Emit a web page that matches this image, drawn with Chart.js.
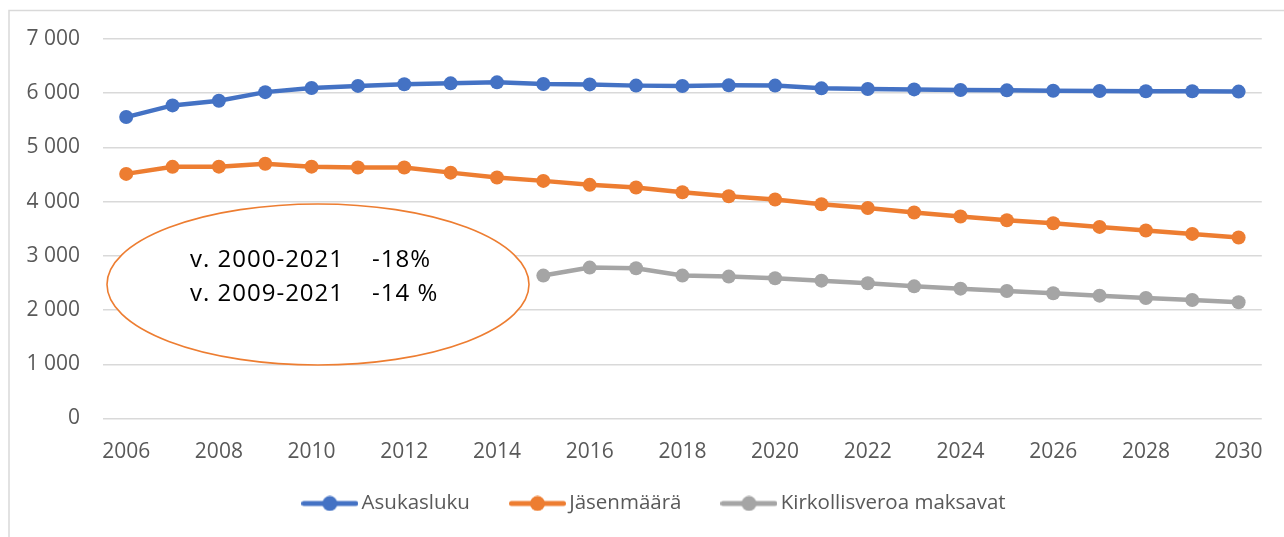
<!DOCTYPE html>
<html>
<head>
<meta charset="utf-8">
<script src="https://cdn.jsdelivr.net/npm/chart.js@4/dist/chart.umd.min.js"></script>
<style>
html,body{margin:0;padding:0;background:#fff;}
#wrap{position:relative;width:1284px;height:537px;}
</style>
</head>
<body>
<div id="wrap"><canvas id="c" width="1284" height="537"></canvas></div>
<script>
const years = ['2006','2007','2008','2009','2010','2011','2012','2013','2014','2015','2016','2017','2018','2019','2020','2021','2022','2023','2024','2025','2026','2027','2028','2029','2030'];
const asukasluku = [5560, 5775, 5860, 6020, 6095, 6135, 6165, 6182, 6200, 6170, 6163, 6140, 6132, 6145, 6140, 6090, 6077, 6070, 6058, 6053, 6045, 6040, 6035, 6035, 6030];
const jasenmaara = [4512, 4642, 4645, 4700, 4645, 4630, 4630, 4535, 4446, 4383, 4310, 4260, 4174, 4100, 4040, 3953, 3882, 3799, 3725, 3657, 3602, 3534, 3467, 3405, 3338];
const kirkollisvero = [null, null, null, null, null, null, null, null, null, 2636, 2783, 2771, 2636, 2617, 2586, 2543, 2494, 2438, 2395, 2352, 2309, 2266, 2223, 2186, 2143];
const seriesNames = ['Asukasluku', 'Jäsenmäärä', 'Kirkollisveroa maksavat'];
const seriesColors = ['#4472C4', '#ED7D31', '#A5A5A5'];
const yTicks = [0, 1000, 2000, 3000, 4000, 5000, 6000, 7000];
const noteLines = [['v. 2000-2021', '-18%'], ['v. 2009-2021', '-14 %']];

const FONT = "'Open Sans', 'Liberation Sans', sans-serif";

function legendIcon(color) {
  const cv = document.createElement('canvas');
  cv.width = 57; cv.height = 16;
  const g = cv.getContext('2d');
  g.strokeStyle = color; g.lineWidth = 5; g.lineCap = 'round';
  g.beginPath(); g.moveTo(2.5, 8); g.lineTo(54.5, 8); g.stroke();
  g.fillStyle = color;
  g.beginPath(); g.arc(28.5, 8, 7.5, 0, Math.PI * 2); g.fill();
  return cv;
}
const icons = seriesColors.map(legendIcon);

function fmt(v) { return String(v).replace(/\B(?=(\d{3})+(?!\d))/g, ' '); }

const frame = {
  id: 'frame',
  beforeDraw(chart) {
    const ctx = chart.ctx;
    ctx.save();
    ctx.fillStyle = '#fff';
    ctx.fillRect(0, 0, chart.width, chart.height);
    ctx.strokeStyle = '#D9D9D9';
    ctx.lineWidth = 1.5;
    ctx.beginPath();
    ctx.moveTo(9, chart.height);
    ctx.lineTo(9, 10.5);
    ctx.lineTo(chart.width, 10.5);
    ctx.stroke();
    ctx.restore();
  }
};

const layoutTweak = {
  id: 'layoutTweak',
  afterLayout(chart) {
    if (chart.legend) { chart.legend.left += 24.5; chart.legend.right += 24.5; }
    if (chart.scales.x) { chart.scales.x.bottom = chart.height; }
  }
};

const note = {
  id: 'note',
  afterDatasetsDraw(chart) {
    const ctx = chart.ctx;
    ctx.save();
    ctx.beginPath();
    ctx.ellipse(318, 284.5, 211, 80.5, 0, 0, Math.PI * 2);
    ctx.fillStyle = '#fff';
    ctx.fill();
    ctx.strokeStyle = '#ED7D31';
    ctx.lineWidth = 1.6;
    ctx.stroke();
    ctx.fillStyle = '#000';
    ctx.font = "24px " + FONT;
    try { ctx.letterSpacing = '1px'; } catch (e) {}
    ctx.textBaseline = 'alphabetic';
    ctx.textAlign = 'left';
    const ys = [266.5, 301];
    noteLines.forEach((ln, i) => {
      ctx.fillText(ln[0], 190, ys[i]);
      ctx.fillText(ln[1], 372, ys[i]);
    });
    ctx.restore();
  }
};

const dataArrays = [asukasluku, jasenmaara, kirkollisvero];

new Chart(document.getElementById('c'), {
  type: 'line',
  data: {
    labels: years,
    datasets: dataArrays.map((d, i) => ({
      label: seriesNames[i],
      data: d,
      borderColor: seriesColors[i],
      backgroundColor: seriesColors[i],
      borderWidth: 4.5,
      pointRadius: 7,
      pointBorderWidth: 0,
      pointBackgroundColor: seriesColors[i],
      tension: 0,
      spanGaps: false
    }))
  },
  options: {
    responsive: false,
    devicePixelRatio: 1,
    animation: false,
    layout: { padding: { left: 0, right: 19, top: 39, bottom: 13.3 } },
    plugins: {
      tooltip: { enabled: false },
      legend: {
        position: 'bottom',
        labels: {
          usePointStyle: true,
          pointStyleWidth: 43,
          padding: 46,
          color: '#595959',
          font: { family: FONT, size: 20.5 },
          generateLabels(chart) {
            return chart.data.datasets.map((ds, i) => ({
              text: ds.label,
              pointStyle: icons[i],
              fillStyle: seriesColors[i],
              strokeStyle: seriesColors[i],
              lineWidth: 0,
              hidden: false,
              datasetIndex: i,
              fontColor: '#595959'
            }));
          }
        }
      }
    },
    scales: {
      x: {
        type: 'category',
        offset: true,
        grid: { display: false, drawTicks: false },
        border: { display: false },
        ticks: {
          autoSkip: false,
          maxRotation: 0,
          padding: 21,
          color: '#595959',
          font: { family: FONT, size: 21 },
          callback(v, i) { return i % 2 === 0 ? this.getLabelForValue(v) : ''; }
        },
        afterFit(s) { s.height = 28.7; }
      },
      y: {
        min: 0, max: 7000,
        afterBuildTicks(s) { s.ticks = yTicks.map(v => ({ value: v })); },
        grid: { color: '#D9D9D9', lineWidth: 1.5, drawTicks: false },
        border: { display: false },
        ticks: {
          padding: 23,
          color: '#595959',
          font: { family: FONT, size: 21 },
          callback(v) { return fmt(v); }
        },
        afterFit(s) { s.width = 103; }
      }
    }
  },
  plugins: [frame, layoutTweak, note]
});
</script>
</body>
</html>
